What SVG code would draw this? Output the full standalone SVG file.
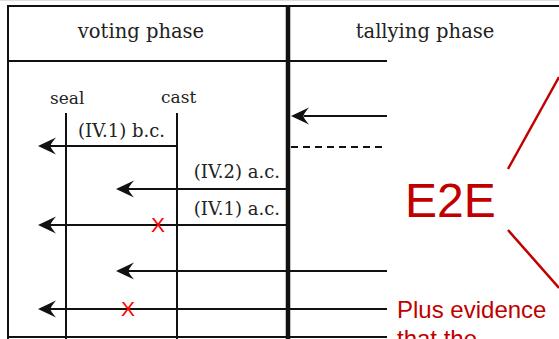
<svg xmlns="http://www.w3.org/2000/svg" xmlns:xlink="http://www.w3.org/1999/xlink" width="559" height="339" viewBox="0 0 559 339">
<style>
.frame{stroke:#111;stroke-width:2;fill:none}
.thick{stroke:#111;stroke-width:4.5;fill:none}
.life{stroke:#111;stroke-width:2;fill:none}
.msg{stroke:#111;stroke-width:2;fill:none}
.dash{stroke:#111;stroke-width:2;fill:none;stroke-dasharray:7 5}
.hdr{font-family:"DejaVu Serif",serif;font-size:19.5px;fill:#222}
.lbl{font-family:"DejaVu Serif",serif;font-size:18px;fill:#222}
.nm{font-family:"DejaVu Serif",serif;font-size:17px;fill:#222}
.x{font-family:"Liberation Sans",Arial,sans-serif;font-size:21px;fill:#ff0000;text-anchor:middle}
.red{font-family:"Liberation Sans",Arial,sans-serif;fill:#c00000}
.redline{stroke:#c00000;stroke-width:2.5;fill:none}
</style>
<defs>
<path id="ah" d="M0,0 L18,-8.5 Q12.5,-2 12.5,0 Q12.5,2 18,8.5 Z" fill="#111"/>
</defs>
<rect width="559" height="339" fill="#fff"/>
<line x1="0" y1="0.5" x2="559" y2="0.5" stroke="#ddd" stroke-width="1"/>
<g id="frame">
<line class="frame" x1="8" y1="6" x2="559" y2="6"/>
<line class="frame" x1="8" y1="5" x2="8" y2="339"/>
<line class="frame" x1="8" y1="61" x2="387" y2="61"/>
<line class="frame" x1="8" y1="337" x2="387" y2="337"/>
<line class="thick" x1="288" y1="5" x2="288" y2="339"/>
</g>
<g id="voting-phase">
<text class="hdr" x="141" y="38" text-anchor="middle">voting phase</text>
</g>
<g id="tallying-phase">
<text class="hdr" x="425" y="38" text-anchor="middle">tallying phase</text>
</g>
<g id="seal">
<text class="nm" x="50" y="104">seal</text>
<line class="life" x1="66" y1="113" x2="66" y2="339"/>
</g>
<g id="cast">
<text class="nm" x="161" y="103">cast</text>
<line class="life" x1="177" y1="113" x2="177" y2="339"/>
</g>
<g id="connectors">
<line class="msg" x1="177" y1="146" x2="50" y2="146"/>
<use xlink:href="#ah" x="38" y="146"/>
<text class="lbl" x="78" y="137">(IV.1) b.c.</text>
<line class="msg" x1="387" y1="116" x2="304" y2="116"/>
<use xlink:href="#ah" x="291" y="116"/>
<line class="dash" x1="291" y1="147" x2="387" y2="147"/>
<line class="msg" x1="287" y1="189" x2="128" y2="189"/>
<use xlink:href="#ah" x="116" y="189"/>
<text class="lbl" x="280" y="178" text-anchor="end">(IV.2) a.c.</text>
<line class="msg" x1="287" y1="225" x2="50" y2="225"/>
<use xlink:href="#ah" x="38" y="225"/>
<text class="lbl" x="280" y="215" text-anchor="end">(IV.1) a.c.</text>
<text class="x" x="158" y="232">X</text>
<line class="msg" x1="387" y1="271" x2="128" y2="271"/>
<use xlink:href="#ah" x="116" y="271"/>
<line class="msg" x1="387" y1="309" x2="50" y2="309"/>
<use xlink:href="#ah" x="38" y="309"/>
<text class="x" x="128" y="316">X</text>
</g>
<g id="e2e">
<text class="red" x="405" y="217" font-size="48">E2E</text>
<line class="redline" x1="559" y1="77" x2="508" y2="169"/>
<line class="redline" x1="508" y1="230" x2="559" y2="288"/>
<text class="red" x="397" y="318" font-size="24">Plus evidence</text>
<text class="red" x="397" y="347" font-size="24">that the</text>
</g>
</svg>
